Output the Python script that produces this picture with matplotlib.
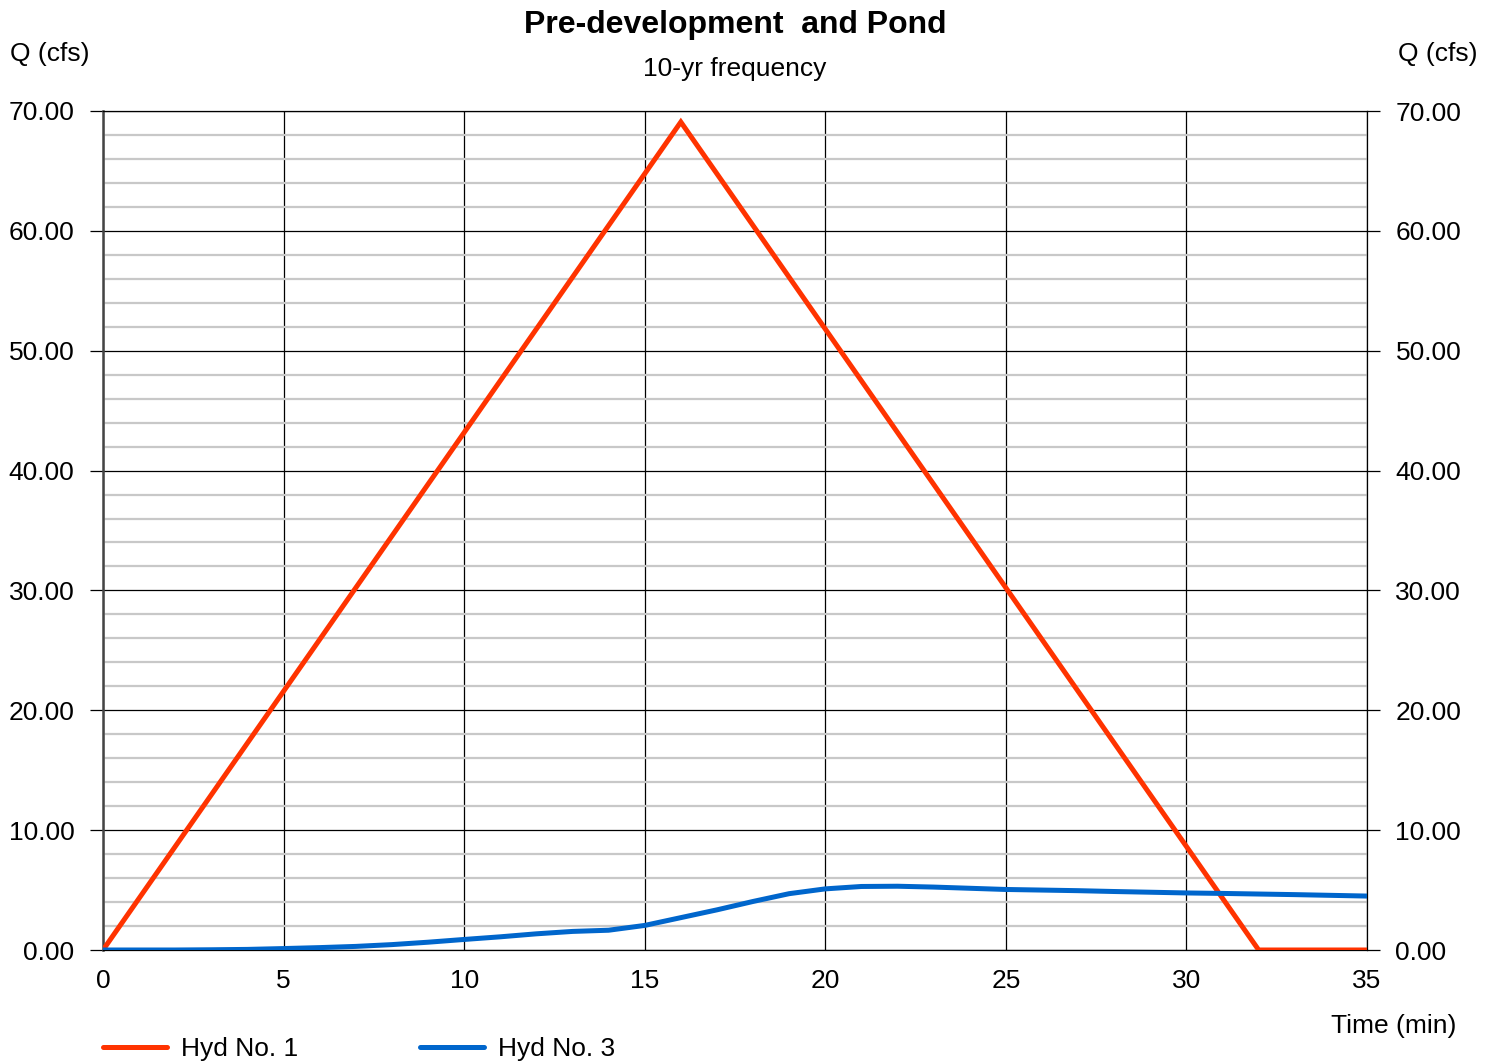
import matplotlib
matplotlib.use("Agg")
import matplotlib.pyplot as plt
from matplotlib.ticker import MultipleLocator

plt.rcParams['font.family'] = ['Liberation Sans', 'DejaVu Sans']

# Hyd No. 1 - pre-development (triangular hydrograph)
t_hyd1 = [0, 16, 32, 35]
q_hyd1 = [0.0, 69.08, 0.0, 0.0]

# Hyd No. 3 - pond outflow, read per minute
t_hyd3 = list(range(0, 36))
q_hyd3 = [0.0, 0.0, 0.0, 0.02, 0.05, 0.12, 0.2, 0.3, 0.45, 0.65,
          0.88, 1.1, 1.35, 1.55, 1.65, 2.05, 2.7, 3.35, 4.05, 4.7,
          5.1, 5.3, 5.32, 5.25, 5.15, 5.05, 5.0, 4.95, 4.88, 4.82,
          4.76, 4.72, 4.67, 4.62, 4.56, 4.5]

x_ticks = [0, 5, 10, 15, 20, 25, 30, 35]
y_ticks = [0, 10, 20, 30, 40, 50, 60, 70]
y_labels = ['%.2f' % v for v in y_ticks]

fs = 19

fig = plt.figure(figsize=(14.96, 10.62), dpi=100)
ax = fig.add_axes([103 / 1496, 1 - 950 / 1062, 1264 / 1496, 839 / 1062])

# grid
ax.yaxis.set_minor_locator(MultipleLocator(2))
ax.grid(which='minor', axis='y', color='#c8c8c8', lw=1.6, zorder=0)
ax.grid(which='major', axis='both', color='black', lw=0.9, zorder=1)

ax.plot(t_hyd1, q_hyd1, color='#ff3300', lw=3.6, solid_capstyle='round',
        solid_joinstyle='miter', zorder=3, label='Hyd No. 1')
ax.plot(t_hyd3, q_hyd3, color='#0066cc', lw=3.6, solid_capstyle='round',
        zorder=3, label='Hyd No. 3')

ax.set_xlim(0, 35)
ax.set_ylim(0, 70)
ax.set_xticks(x_ticks)
ax.set_yticks(y_ticks)
ax.set_yticklabels(y_labels)
ax.tick_params(axis='y', which='major', length=9.5, width=0.9, pad=11,
               labelsize=fs, direction='out')
ax.tick_params(axis='y', which='minor', length=0)
ax.tick_params(axis='x', length=0, pad=14, labelsize=fs)

for s in ax.spines.values():
    s.set_linewidth(0.9)
ax.spines['left'].set_color('#444444')
ax.spines['left'].set_linewidth(1.8)

ax2 = ax.twinx()
ax2.set_ylim(0, 70)
ax2.set_yticks(y_ticks)
ax2.set_yticklabels(y_labels)
ax2.tick_params(axis='y', length=9.5, width=0.9, pad=11, labelsize=fs)
for s in ax2.spines.values():
    s.set_visible(False)

fig.text(735 / 1496, 1 - 25 / 1062, 'Pre-development  and Pond', ha='center',
         va='center', fontsize=23, fontweight='bold')
fig.text(735 / 1496, 1 - 69 / 1062, '10-yr frequency', ha='center',
         va='center', fontsize=19)
fig.text(10 / 1496, 1 - 54 / 1062, 'Q (cfs)', ha='left', va='center', fontsize=fs)
fig.text(1477 / 1496, 1 - 54 / 1062, 'Q (cfs)', ha='right', va='center', fontsize=fs)
fig.text(1456 / 1496, 1 - 1026 / 1062, 'Time (min)', ha='right', va='center',
         fontsize=fs)

fig.legend(loc='center left', bbox_to_anchor=(92 / 1496, 1 - 1049 / 1062),
           ncol=2, frameon=False, fontsize=fs, handlelength=2.45,
           handletextpad=0.53, columnspacing=4.6, borderaxespad=0)

fig.savefig('out.png', dpi=100)
